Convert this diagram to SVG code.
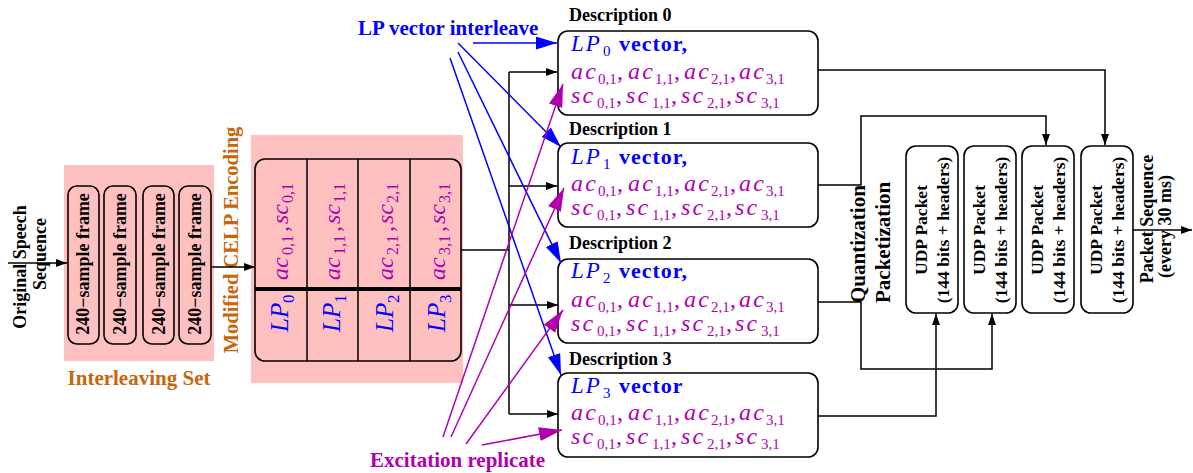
<svg xmlns="http://www.w3.org/2000/svg" width="1193" height="473" viewBox="0 0 1193 473">
<defs>
<style>
text{font-family:"Liberation Serif","Times New Roman",serif;}
.b{font-weight:bold}
.bl{fill:#0000ff}
.mg{fill:#b000b0}
.or{fill:#c8660a}
.it{font-style:italic}
.box{fill:none;stroke:#000;stroke-width:1.6}
.pink{fill:#ffc0c0}
.ln{fill:none;stroke:#000;stroke-width:1.5}
.lb{fill:none;stroke:#0000ff;stroke-width:1.5}
.lm{fill:none;stroke:#b000b0;stroke-width:1.5}
.fr{font-size:18px;font-weight:bold}
.ds{font-size:18px;font-weight:bold}
.m{font-size:24px}
.m .it{letter-spacing:2.2px}
.lp{font-size:23px;letter-spacing:2px;font-style:italic}
.sb{font-size:15px}
.pk{font-size:17.5px;font-weight:bold}
</style>
<marker id="ak" markerUnits="userSpaceOnUse" markerWidth="12" markerHeight="8" refX="11" refY="4" orient="auto"><path d="M0,0 L11,4 L0,8 z" fill="#000"/></marker>
<marker id="ab" markerUnits="userSpaceOnUse" markerWidth="22" markerHeight="14" refX="21" refY="6.5" orient="auto"><path d="M0,0 L21,6.5 L0,13 z" fill="#0000ff"/></marker>
<marker id="am" markerUnits="userSpaceOnUse" markerWidth="24" markerHeight="15" refX="23" refY="7" orient="auto"><path d="M0,0 L23,7 L0,14 z" fill="#b000b0"/></marker>
</defs>
<rect x="0" y="0" width="1193" height="473" fill="#fff"/>

<g id="input-label">
<text class="b" font-size="18" text-anchor="middle" transform="translate(26,267) rotate(-90)">Original Speech</text>
<text class="b" font-size="18" text-anchor="middle" transform="translate(46,254) rotate(-90)">Sequence</text>
</g>

<g id="interleaving-set">
<rect class="pink" x="64" y="165" width="150" height="196"/>
<rect class="box" x="68" y="186" width="31" height="158" rx="9"/>
<rect class="box" x="104" y="186" width="32" height="158" rx="9"/>
<rect class="box" x="143" y="186" width="31" height="158" rx="9"/>
<rect class="box" x="179" y="186" width="32" height="158" rx="9"/>
<text class="fr" text-anchor="middle" transform="translate(89,264) rotate(-90)">240−sample frame</text>
<text class="fr" text-anchor="middle" transform="translate(126,264) rotate(-90)">240−sample frame</text>
<text class="fr" text-anchor="middle" transform="translate(164.5,264) rotate(-90)">240−sample frame</text>
<text class="fr" text-anchor="middle" transform="translate(201,264) rotate(-90)">240−sample frame</text>
<text class="b or" font-size="21" text-anchor="middle" x="139" y="385">Interleaving Set</text>
</g>

<g id="celp-encoding">
<rect class="pink" x="251" y="135" width="212" height="248"/>
<rect class="box" x="255" y="159" width="206" height="202" rx="10"/>
<path class="ln" d="M307,159 V361 M358,159 V361 M410,159 V361"/>
<path d="M255,289 H461" stroke="#000" stroke-width="4"/>
<text class="mg" font-size="24" transform="translate(288,280) rotate(-90)"><tspan class="it" x="0">ac</tspan><tspan x="25" dy="5" font-size="16">0,1</tspan><tspan x="48" dy="-5">,</tspan><tspan class="it" x="56">sc</tspan><tspan x="77" dy="5" font-size="16">0,1</tspan></text>
<text class="mg" font-size="24" transform="translate(340,280) rotate(-90)"><tspan class="it" x="0">ac</tspan><tspan x="25" dy="5" font-size="16">1,1</tspan><tspan x="48" dy="-5">,</tspan><tspan class="it" x="56">sc</tspan><tspan x="77" dy="5" font-size="16">1,1</tspan></text>
<text class="mg" font-size="24" transform="translate(393,280) rotate(-90)"><tspan class="it" x="0">ac</tspan><tspan x="25" dy="5" font-size="16">2,1</tspan><tspan x="48" dy="-5">,</tspan><tspan class="it" x="56">sc</tspan><tspan x="77" dy="5" font-size="16">2,1</tspan></text>
<text class="mg" font-size="24" transform="translate(445,280) rotate(-90)"><tspan class="it" x="0">ac</tspan><tspan x="25" dy="5" font-size="16">3,1</tspan><tspan x="48" dy="-5">,</tspan><tspan class="it" x="56">sc</tspan><tspan x="77" dy="5" font-size="16">3,1</tspan></text>
<text class="bl" font-size="25" transform="translate(288,332) rotate(-90)"><tspan class="it" x="0">LP</tspan><tspan x="29" dy="6" font-size="17">0</tspan></text>
<text class="bl" font-size="25" transform="translate(340,332) rotate(-90)"><tspan class="it" x="0">LP</tspan><tspan x="29" dy="6" font-size="17">1</tspan></text>
<text class="bl" font-size="25" transform="translate(393,332) rotate(-90)"><tspan class="it" x="0">LP</tspan><tspan x="29" dy="6" font-size="17">2</tspan></text>
<text class="bl" font-size="25" transform="translate(445,332) rotate(-90)"><tspan class="it" x="0">LP</tspan><tspan x="29" dy="6" font-size="17">3</tspan></text>
<text class="b or" font-size="20.5" text-anchor="middle" transform="translate(238,240) rotate(-90)">Modified CELP Encoding</text>
</g>

<g id="description-0">
<text class="ds" x="569" y="21">Description 0</text>
<rect class="box" x="558" y="31" width="260" height="84" rx="10"/>
<text class="bl" y="51"><tspan class="lp" x="571">LP</tspan><tspan x="603" dy="5" font-size="15">0</tspan><tspan class="b" x="619" dy="-5" font-size="22" letter-spacing="1">vector,</tspan></text>
<text class="mg m" y="79"><tspan class="it" x="571">ac</tspan><tspan x="598" dy="5" class="sb">0,1</tspan><tspan x="617" dy="-5">,</tspan><tspan class="it" x="628">ac</tspan><tspan x="655" dy="5" class="sb">1,1</tspan><tspan x="674" dy="-5">,</tspan><tspan class="it" x="684">ac</tspan><tspan x="711" dy="5" class="sb">2,1</tspan><tspan x="730" dy="-5">,</tspan><tspan class="it" x="739">ac</tspan><tspan x="766" dy="5" class="sb">3,1</tspan></text>
<text class="mg m" y="103"><tspan class="it" x="571">sc</tspan><tspan x="597" dy="5" class="sb">0,1</tspan><tspan x="616" dy="-5">,</tspan><tspan class="it" x="626">sc</tspan><tspan x="652" dy="5" class="sb">1,1</tspan><tspan x="671" dy="-5">,</tspan><tspan class="it" x="681">sc</tspan><tspan x="707" dy="5" class="sb">2,1</tspan><tspan x="726" dy="-5">,</tspan><tspan class="it" x="735">sc</tspan><tspan x="761" dy="5" class="sb">3,1</tspan></text>
</g>

<g id="description-1">
<text class="ds" x="569" y="135">Description 1</text>
<rect class="box" x="558" y="143" width="260" height="84" rx="10"/>
<text class="bl" y="164"><tspan class="lp" x="571">LP</tspan><tspan x="603" dy="5" font-size="15">1</tspan><tspan class="b" x="619" dy="-5" font-size="22" letter-spacing="1">vector,</tspan></text>
<text class="mg m" y="191"><tspan class="it" x="571">ac</tspan><tspan x="598" dy="5" class="sb">0,1</tspan><tspan x="617" dy="-5">,</tspan><tspan class="it" x="628">ac</tspan><tspan x="655" dy="5" class="sb">1,1</tspan><tspan x="674" dy="-5">,</tspan><tspan class="it" x="684">ac</tspan><tspan x="711" dy="5" class="sb">2,1</tspan><tspan x="730" dy="-5">,</tspan><tspan class="it" x="739">ac</tspan><tspan x="766" dy="5" class="sb">3,1</tspan></text>
<text class="mg m" y="215"><tspan class="it" x="571">sc</tspan><tspan x="597" dy="5" class="sb">0,1</tspan><tspan x="616" dy="-5">,</tspan><tspan class="it" x="626">sc</tspan><tspan x="652" dy="5" class="sb">1,1</tspan><tspan x="671" dy="-5">,</tspan><tspan class="it" x="681">sc</tspan><tspan x="707" dy="5" class="sb">2,1</tspan><tspan x="726" dy="-5">,</tspan><tspan class="it" x="735">sc</tspan><tspan x="761" dy="5" class="sb">3,1</tspan></text>
</g>

<g id="description-2">
<text class="ds" x="569" y="249">Description 2</text>
<rect class="box" x="558" y="259" width="260" height="84" rx="10"/>
<text class="bl" y="278"><tspan class="lp" x="571">LP</tspan><tspan x="603" dy="5" font-size="15">2</tspan><tspan class="b" x="619" dy="-5" font-size="22" letter-spacing="1">vector,</tspan></text>
<text class="mg m" y="307"><tspan class="it" x="571">ac</tspan><tspan x="598" dy="5" class="sb">0,1</tspan><tspan x="617" dy="-5">,</tspan><tspan class="it" x="628">ac</tspan><tspan x="655" dy="5" class="sb">1,1</tspan><tspan x="674" dy="-5">,</tspan><tspan class="it" x="684">ac</tspan><tspan x="711" dy="5" class="sb">2,1</tspan><tspan x="730" dy="-5">,</tspan><tspan class="it" x="739">ac</tspan><tspan x="766" dy="5" class="sb">3,1</tspan></text>
<text class="mg m" y="331"><tspan class="it" x="571">sc</tspan><tspan x="597" dy="5" class="sb">0,1</tspan><tspan x="616" dy="-5">,</tspan><tspan class="it" x="626">sc</tspan><tspan x="652" dy="5" class="sb">1,1</tspan><tspan x="671" dy="-5">,</tspan><tspan class="it" x="681">sc</tspan><tspan x="707" dy="5" class="sb">2,1</tspan><tspan x="726" dy="-5">,</tspan><tspan class="it" x="735">sc</tspan><tspan x="761" dy="5" class="sb">3,1</tspan></text>
</g>

<g id="description-3">
<text class="ds" x="569" y="365">Description 3</text>
<rect class="box" x="558" y="373" width="260" height="84" rx="10"/>
<text class="bl" y="393"><tspan class="lp" x="571">LP</tspan><tspan x="603" dy="5" font-size="15">3</tspan><tspan class="b" x="619" dy="-5" font-size="22" letter-spacing="1">vector</tspan></text>
<text class="mg m" y="420"><tspan class="it" x="571">ac</tspan><tspan x="598" dy="5" class="sb">0,1</tspan><tspan x="617" dy="-5">,</tspan><tspan class="it" x="628">ac</tspan><tspan x="655" dy="5" class="sb">1,1</tspan><tspan x="674" dy="-5">,</tspan><tspan class="it" x="684">ac</tspan><tspan x="711" dy="5" class="sb">2,1</tspan><tspan x="730" dy="-5">,</tspan><tspan class="it" x="739">ac</tspan><tspan x="766" dy="5" class="sb">3,1</tspan></text>
<text class="mg m" y="444"><tspan class="it" x="571">sc</tspan><tspan x="597" dy="5" class="sb">0,1</tspan><tspan x="616" dy="-5">,</tspan><tspan class="it" x="626">sc</tspan><tspan x="652" dy="5" class="sb">1,1</tspan><tspan x="671" dy="-5">,</tspan><tspan class="it" x="681">sc</tspan><tspan x="707" dy="5" class="sb">2,1</tspan><tspan x="726" dy="-5">,</tspan><tspan class="it" x="735">sc</tspan><tspan x="761" dy="5" class="sb">3,1</tspan></text>
</g>

<g id="packetization-label">
<text class="b" font-size="21" transform="translate(865,303) rotate(-90)">Quantization</text>
<text class="b" font-size="21" transform="translate(890,303) rotate(-90)">Packetization</text>
</g>

<g id="packet-1">
<rect class="box" x="906" y="146" width="52" height="167" rx="10"/>
<text class="pk" text-anchor="middle" transform="translate(927,230) rotate(-90)">UDP Packet</text>
<text class="pk" text-anchor="middle" transform="translate(949,230) rotate(-90)">(144 bits + headers)</text>
</g>
<g id="packet-2">
<rect class="box" x="964" y="146" width="52" height="167" rx="10"/>
<text class="pk" text-anchor="middle" transform="translate(985,230) rotate(-90)">UDP Packet</text>
<text class="pk" text-anchor="middle" transform="translate(1007,230) rotate(-90)">(144 bits + headers)</text>
</g>
<g id="packet-3">
<rect class="box" x="1022" y="146" width="52" height="167" rx="10"/>
<text class="pk" text-anchor="middle" transform="translate(1043,230) rotate(-90)">UDP Packet</text>
<text class="pk" text-anchor="middle" transform="translate(1065,230) rotate(-90)">(144 bits + headers)</text>
</g>
<g id="packet-4">
<rect class="box" x="1081" y="146" width="52" height="167" rx="10"/>
<text class="pk" text-anchor="middle" transform="translate(1102,230) rotate(-90)">UDP Packet</text>
<text class="pk" text-anchor="middle" transform="translate(1124,230) rotate(-90)">(144 bits + headers)</text>
</g>

<g id="output-label">
<text class="b" font-size="18" text-anchor="middle" transform="translate(1153,219) rotate(-90)">Packet Sequence</text>
<text class="b" font-size="18" text-anchor="middle" transform="translate(1171,226.5) rotate(-90)">(every 30 ms)</text>
</g>

<g id="annotations">
<text class="b bl" font-size="21" x="358" y="35">LP vector interleave</text>
<text class="b mg" font-size="21" x="370" y="467">Excitation replicate</text>
</g>

<g id="connectors">
<path class="ln" d="M8,263 H67" marker-end="url(#ak)"/>
<path class="ln" d="M211,267 H255" marker-end="url(#ak)"/>
<path class="ln" d="M461,250 H509 M509,72 V414"/>
<path class="ln" d="M509,72 H557" marker-end="url(#ak)"/>
<path class="ln" d="M509,186 H557" marker-end="url(#ak)"/>
<path class="ln" d="M509,305 H558" marker-end="url(#ak)"/>
<path class="ln" d="M509,414 H558" marker-end="url(#ak)"/>
<path class="ln" d="M818,70 H1105 V145" marker-end="url(#ak)"/>
<path class="ln" d="M818,185 H861 V116 H1046 V145" marker-end="url(#ak)"/>
<path class="ln" d="M818,302 H861 V369 H992 V314" marker-end="url(#ak)"/>
<path class="ln" d="M818,416 H936 V314" marker-end="url(#ak)"/>
<path class="ln" d="M1133,230 H1192" marker-end="url(#ak)"/>
<path class="lb" d="M473,43 H557" marker-end="url(#ab)"/>
<path class="lb" d="M458,43 L561,147" marker-end="url(#ab)"/>
<path class="lb" d="M458,52 L561,263" marker-end="url(#ab)"/>
<path class="lb" d="M450,58 L561,375" marker-end="url(#ab)"/>
<path class="lm" d="M443,437 L563,84" marker-end="url(#am)"/>
<path class="lm" d="M451,437 L564,188" marker-end="url(#am)"/>
<path class="lm" d="M466,444 L563,310" marker-end="url(#am)"/>
<path class="lm" d="M482,445 L562,430" marker-end="url(#am)"/>
</g>
</svg>
